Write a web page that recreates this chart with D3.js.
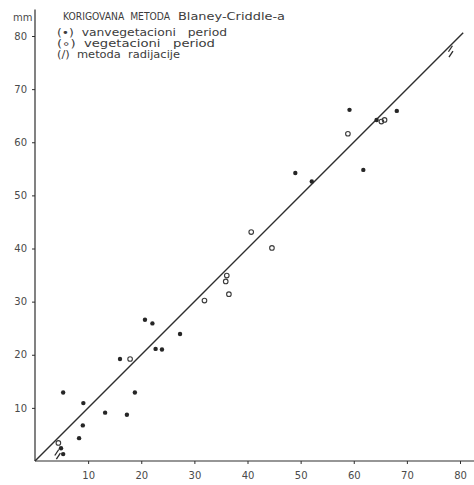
<!DOCTYPE html>
<html>
<head>
<meta charset="utf-8">
<script src="https://cdn.jsdelivr.net/npm/d3@7"></script>
<style>
  html, body { margin: 0; padding: 0; background: #fff; }
  svg { display: block; }
  text { font-family: "DejaVu Sans", sans-serif; fill: #3c3c3c; }
</style>
</head>
<body>
<svg id="chart" width="474" height="485"></svg>
<script>
// Calculated (x) vs measured (y) evapotranspiration, mm
const tickValues = [10, 20, 30, 40, 50, 60, 70, 80];

// (•) vanvegetacioni period
const vanvegX = [5.3, 9.1, 13.2, 17.3, 18.8, 9.0, 8.3, 4.9, 5.3, 16.0, 22.7, 23.9, 27.3, 20.7, 22.1, 52.1, 49.0, 59.2, 68.1, 61.8, 64.3];
const vanvegY = [12.9, 10.9, 9.1, 8.7, 12.9, 6.7, 4.3, 2.4, 1.3, 19.2, 21.1, 21.0, 23.9, 26.6, 25.9, 52.6, 54.2, 66.1, 65.9, 54.8, 64.2];

// (∘) vegetacioni period
const vegX = [4.4, 17.9, 31.9, 36.1, 35.9, 36.5, 40.7, 44.6, 58.9, 65.2, 65.8];
const vegY = [3.4, 19.2, 30.2, 34.9, 33.8, 31.4, 43.1, 40.1, 61.6, 63.9, 64.2];

// (/) metoda radijacije
const radX = [4.1, 4.4, 78.2, 78.3];
const radY = [1.6, 0.9, 77.6, 76.6];

const titleParts = ["KORIGOVANA  METODA", "Blaney-Criddle-a"];
const legendLines = [
  "(•)  vanvegetacioni   period",
  "(∘)  vegetacioni   period",
  "(/)  metoda  radijacije"
];
const unitLabel = "mm";

const svg = d3.select("#chart");
const x = d3.scaleLinear().domain([0, 80]).range([35, 460]);
const y = d3.scaleLinear().domain([0, 80]).range([461, 36]);
const ink = "#2e2e2e";

// axis lines run past the last tick
svg.append("line")
  .attr("x1", x(0)).attr("y1", y(0)).attr("x2", x(0)).attr("y2", y(85))
  .attr("stroke", ink).attr("stroke-width", 1.2);
svg.append("line")
  .attr("x1", x(0)).attr("y1", y(0)).attr("x2", x(83)).attr("y2", y(0))
  .attr("stroke", ink).attr("stroke-width", 1.2);

const yAxis = svg.append("g")
  .attr("transform", `translate(${x(0)},0)`)
  .call(d3.axisLeft(y).tickValues(tickValues).tickSize(3).tickPadding(5));
const xAxis = svg.append("g")
  .attr("transform", `translate(0,${y(0)})`)
  .call(d3.axisBottom(x).tickValues(tickValues).tickSize(3).tickPadding(8));
[yAxis, xAxis].forEach(g => {
  g.select(".domain").remove();
  g.selectAll(".tick line").attr("stroke", ink).attr("stroke-width", 1);
  g.selectAll(".tick text")
    .style("font-family", "'DejaVu Sans', sans-serif")
    .style("font-size", "10px")
    .style("fill", "#4a4a4a");
});

svg.append("text")
  .attr("x", 13).attr("y", 21)
  .style("font-size", "10px").style("fill", "#4a4a4a")
  .text(unitLabel);

// 1:1 line
svg.append("line")
  .attr("x1", x(0)).attr("y1", y(0)).attr("x2", x(80.6)).attr("y2", y(80.6))
  .attr("stroke", ink).attr("stroke-width", 1.4);

// points
svg.append("g").selectAll("circle")
  .data(d3.zip(vanvegX, vanvegY))
  .join("circle")
  .attr("cx", d => x(d[0])).attr("cy", d => y(d[1]))
  .attr("r", 2.2).attr("fill", "#262626");

svg.append("g").selectAll("circle")
  .data(d3.zip(vegX, vegY))
  .join("circle")
  .attr("cx", d => x(d[0])).attr("cy", d => y(d[1]))
  .attr("r", 2.3).attr("fill", "none")
  .attr("stroke", "#3a3a3a").attr("stroke-width", 1.1);

svg.append("g").selectAll("line")
  .data(d3.zip(radX, radY))
  .join("line")
  .attr("x1", d => x(d[0]) - 2).attr("y1", d => y(d[1]) + 3)
  .attr("x2", d => x(d[0]) + 2).attr("y2", d => y(d[1]) - 3)
  .attr("stroke", "#2a2a2a").attr("stroke-width", 1.3);

// legend block: wide technical lettering, glyphs stretched to fit
const legend = svg.append("g")
  .style("font-size", "10px")
  .style("fill", "#3c3c3c");

const titleX = [63, 178];
const titleW = [107, 107];
legend.selectAll("text.title")
  .data(titleParts)
  .join("text")
  .attr("class", "title")
  .attr("x", (d, i) => titleX[i])
  .attr("y", 20)
  .attr("textLength", (d, i) => titleW[i])
  .attr("lengthAdjust", "spacingAndGlyphs")
  .attr("xml:space", "preserve")
  .text(d => d);

const lineY = [35.5, 47, 58];
const lineW = [170, 158, 123];
legend.selectAll("text.item")
  .data(legendLines)
  .join("text")
  .attr("class", "item")
  .attr("x", 57)
  .attr("y", (d, i) => lineY[i])
  .attr("textLength", (d, i) => lineW[i])
  .attr("lengthAdjust", "spacingAndGlyphs")
  .attr("xml:space", "preserve")
  .text(d => d);
</script>
</body>
</html>
